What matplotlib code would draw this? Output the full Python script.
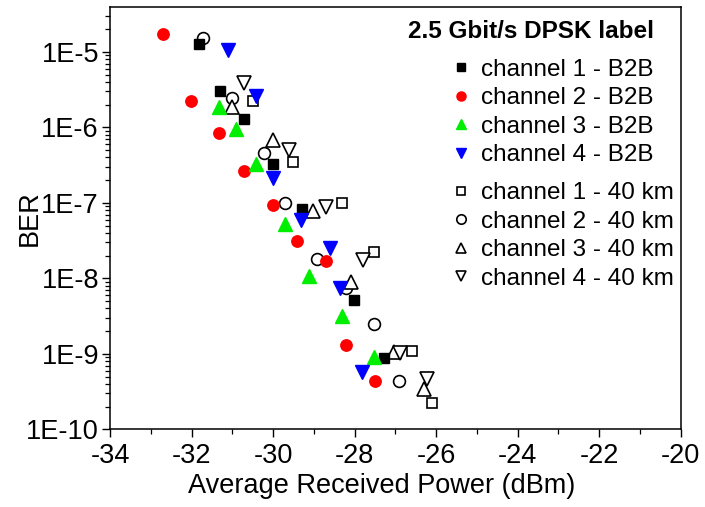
import numpy as np
import matplotlib
matplotlib.use("Agg")
import matplotlib.pyplot as plt
from matplotlib.ticker import MultipleLocator, LogLocator, FuncFormatter, NullFormatter

plt.rcParams['font.family'] = ['Liberation Sans', 'DejaVu Sans']
plt.rcParams['axes.unicode_minus'] = False

# ---- data ----
ch1_b2b_x = [-31.81, -31.30, -30.71, -30.01, -29.30, -28.01, -27.29]
ch1_b2b_y = [1.28e-5, 3.0e-6, 1.30e-6, 3.29e-7, 8.4e-8, 5.15e-9, 8.9e-10]

ch2_b2b_x = [-32.71, -32.02, -31.32, -30.71, -30.01, -29.42, -28.71, -28.21, -27.50]
ch2_b2b_y = [1.75e-5, 2.22e-6, 8.45e-7, 2.63e-7, 9.5e-8, 3.14e-8, 1.71e-8, 1.31e-9, 4.4e-10]

ch3_b2b_x = [-31.32, -30.91, -30.42, -29.71, -29.11, -28.31, -27.52]
ch3_b2b_y = [1.84e-6, 9.4e-7, 3.23e-7, 5.2e-8, 1.06e-8, 3.15e-9, 9.1e-10]

ch4_b2b_x = [-31.10, -30.42, -30.01, -29.31, -28.60, -28.36, -27.81]
ch4_b2b_y = [1.05e-5, 2.59e-6, 2.13e-7, 5.9e-8, 2.49e-8, 7.55e-9, 5.8e-10]

ch1_40_x = [-30.50, -29.52, -28.30, -27.52, -26.60, -26.11]
ch1_40_y = [2.22e-6, 3.46e-7, 1.0e-7, 2.21e-8, 1.10e-9, 2.25e-10]

ch2_40_x = [-31.71, -31.01, -30.21, -29.71, -28.91, -28.22, -27.52, -26.91]
ch2_40_y = [1.55e-5, 2.42e-6, 4.52e-7, 1.0e-7, 1.80e-8, 7.4e-9, 2.50e-9, 4.4e-10]

ch3_40_x = [-31.01, -30.01, -29.01, -28.10, -27.03, -26.30]
ch3_40_y = [1.87e-6, 6.8e-7, 7.85e-8, 8.9e-9, 1.07e-9, 3.4e-10]

ch4_40_x = [-30.71, -29.61, -28.71, -27.80, -26.89, -26.22]
ch4_40_y = [3.82e-6, 4.99e-7, 8.9e-8, 1.77e-8, 1.03e-9, 4.6e-10]

labels_b2b = ["channel 1 - B2B", "channel 2 - B2B", "channel 3 - B2B", "channel 4 - B2B"]
labels_40 = ["channel 1 - 40 km", "channel 2 - 40 km", "channel 3 - 40 km", "channel 4 - 40 km"]
legend_title = "2.5 Gbit/s DPSK label"

# ---- figure ----
W, H = 705, 507
fig = plt.figure(figsize=(W / 100, H / 100), dpi=100)
ax = fig.add_axes([110 / W, 1 - 429.3 / H, (680.7 - 110) / W, (429.3 - 7.3) / H])

b2b_styles = [
    dict(marker='s', color='black', ms=7.5),
    dict(marker='o', color='red', ms=8.2),
    dict(marker='^', color='#00ee00', ms=9.5),
    dict(marker='v', color='blue', ms=9.5),
]
km_styles = [
    dict(marker='s', ms=7.5),
    dict(marker='o', ms=8.5),
    dict(marker='^', ms=9.5),
    dict(marker='v', ms=9.5),
]

b2b_data = [(ch1_b2b_x, ch1_b2b_y), (ch2_b2b_x, ch2_b2b_y), (ch3_b2b_x, ch3_b2b_y), (ch4_b2b_x, ch4_b2b_y)]
km_data = [(ch1_40_x, ch1_40_y), (ch2_40_x, ch2_40_y), (ch3_40_x, ch3_40_y), (ch4_40_x, ch4_40_y)]

h_b2b = []
for (x, y), st, lab in zip(b2b_data, b2b_styles, labels_b2b):
    h, = ax.plot(x, y, linestyle='none', marker=st['marker'], ms=st['ms'],
                 markerfacecolor=st['color'], markeredgecolor=st['color'], label=lab, zorder=3)
    h_b2b.append(h)

h_40 = []
for (x, y), st, lab in zip(km_data, km_styles, labels_40):
    h, = ax.plot(x, y, linestyle='none', marker=st['marker'], ms=st['ms'],
                 markerfacecolor='white', markeredgecolor='black', markeredgewidth=1.2,
                 label=lab, zorder=2)
    h_40.append(h)

ax.set_yscale('log')
ax.set_xlim(-34, -20)
ax.set_ylim(1e-10, 3.9e-5)

ax.xaxis.set_major_locator(MultipleLocator(2))
ax.xaxis.set_minor_locator(MultipleLocator(1))
ax.yaxis.set_major_locator(LogLocator(base=10, numticks=20))
ax.yaxis.set_minor_locator(LogLocator(base=10, subs=np.arange(2, 10), numticks=100))
ax.yaxis.set_minor_formatter(NullFormatter())
ax.yaxis.set_major_formatter(FuncFormatter(lambda v, _: "1E%d" % int(round(np.log10(v)))))

ax.tick_params(which='major', direction='out', length=6, width=1.0, labelsize=19.5, colors='black')
ax.tick_params(which='minor', direction='out', length=3.5, width=0.9)
ax.tick_params(axis='x', which='major', pad=4)
ax.tick_params(axis='y', which='major', pad=2)
for s in ax.spines.values():
    s.set_linewidth(1.1)

ax.set_xlabel("Average Received Power (dBm)", fontsize=19.5)
ax.set_ylabel("BER", fontsize=19.5)
ax.xaxis.set_label_coords(0.4766, -0.104)
ax.yaxis.set_label_coords(-0.118, 0.5)

# legend title
fig.text(408 / W, 1 - 32 / H, legend_title, fontsize=17.5, fontweight='bold',
         ha='left', va='center')

leg_kw = dict(frameon=False, fontsize=17.5, borderpad=0, borderaxespad=0,
              handlelength=0.8, handletextpad=0.45, labelspacing=0.27, markerscale=0.8,
              loc='upper left')
leg1 = ax.legend(handles=h_b2b, bbox_to_anchor=(451 / W, 1 - 58.5 / H),
                 bbox_transform=fig.transFigure, **leg_kw)
ax.add_artist(leg1)
leg2 = ax.legend(handles=h_40, bbox_to_anchor=(451 / W, 1 - 182 / H),
                 bbox_transform=fig.transFigure, **leg_kw)

fig.savefig("out.png", dpi=100)
